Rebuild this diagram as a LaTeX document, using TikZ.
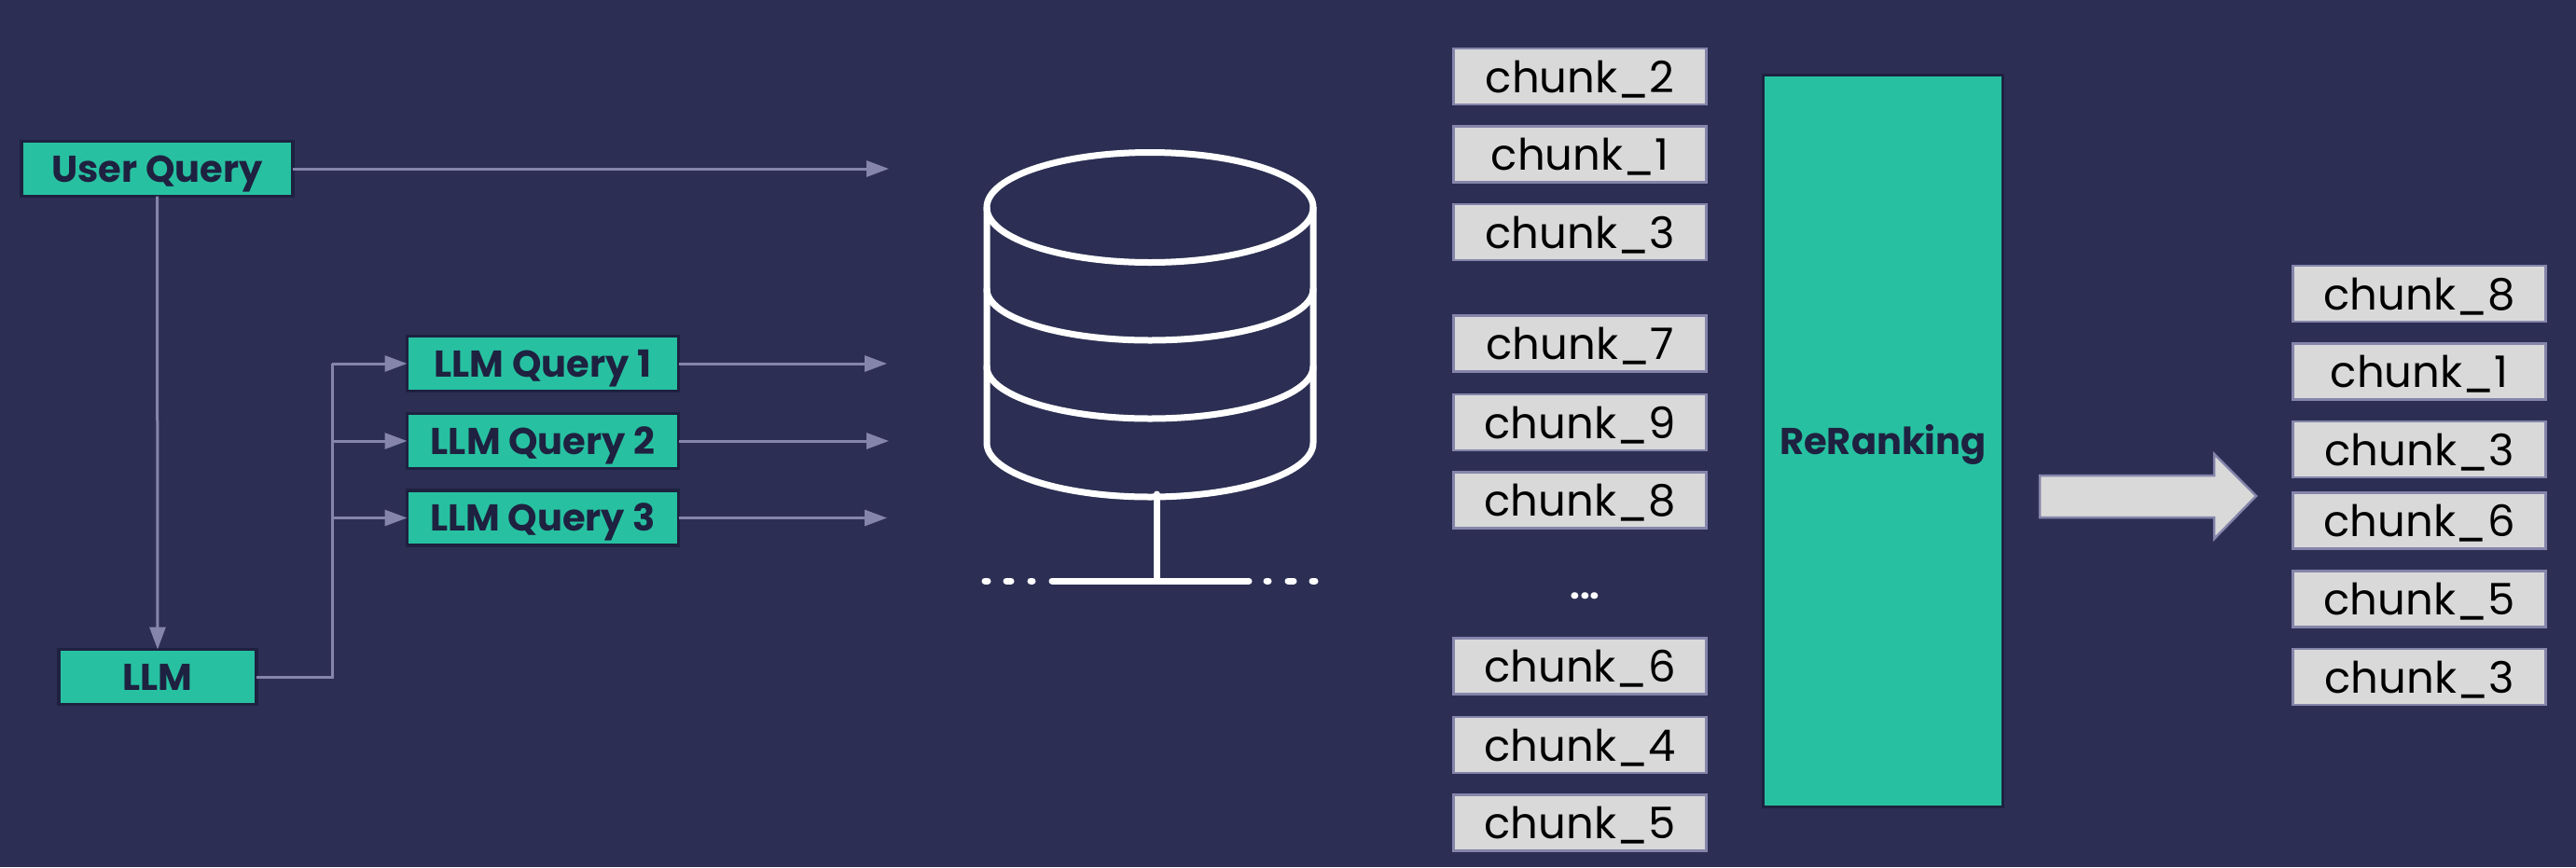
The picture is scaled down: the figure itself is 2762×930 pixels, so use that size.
\documentclass[tikz,border=0pt]{standalone}
\usepackage{fontspec}
\setmainfont{Poppins}
\usetikzlibrary{arrows.meta}
\definecolor{bgc}{HTML}{2C2F53}
\definecolor{tealc}{HTML}{27C1A1}
\definecolor{darkc}{HTML}{1E2140}
\definecolor{greyc}{HTML}{D9D9D9}
\definecolor{edgec}{HTML}{8585AB}
\tikzset{
  qbox/.style={draw=darkc,fill=tealc,line width=3.5pt,inner sep=0pt,outer sep=0pt,minimum height=59pt,text=darkc,text height=28pt,text depth=0pt,font=\fontsize{40}{42}\selectfont\bfseries},
  chunkbox/.style={draw=edgec,fill=greyc,line width=2.5pt,inner sep=0pt,outer sep=0pt,minimum width=271pt,minimum height=60pt,text=black,text height=34pt,text depth=0pt,font=\fontsize{46.5}{50}\selectfont},
  link/.style={draw=edgec,line width=3pt},
  flow/.style={link,-{Triangle[length=24pt,width=17pt]}},
  dbline/.style={draw=white,line width=7pt,line cap=round,line join=round},
}
\begin{document}
\begin{tikzpicture}[x=1pt,y=-1pt]
\useasboundingbox (0,0) rectangle (2762,930);
\fill[bgc] (0,0) rectangle (2762,930);

% query column
\node[qbox,minimum width=291pt] (user) at (168.5,181) {User Query};
\node[qbox,minimum width=212pt] (llm) at (169,726) {LLM};
\node[qbox,minimum width=291pt] (q1) at (582,390) {LLM Query 1};
\node[qbox,minimum width=291pt] (q2) at (582,473) {LLM Query 2};
\node[qbox,minimum width=291pt] (q3) at (582,555.5) {LLM Query 3};

\coordinate (t0) at (953,181);
\coordinate (t1) at (951,390);
\coordinate (t2) at (953,473);
\coordinate (t3) at (951,555.5);
\coordinate (bus) at (356,726);

\draw[flow] (user.east) -- (t0);
\draw[flow] (user.south) -- (llm.north);
\draw[flow] (q1.east) -- (t1);
\draw[flow] (q2.east) -- (t2);
\draw[flow] (q3.east) -- (t3);
\draw[link] (llm.east) -- (bus) -- (bus |- q1.west);
\draw[flow] (bus |- q1.west) -- (q1.west);
\draw[flow] (bus |- q2.west) -- (q2.west);
\draw[flow] (bus |- q3.west) -- (q3.west);

% database icon
\draw[dbline] (1233,222.5) ellipse [x radius=175pt,y radius=59pt];
\draw[dbline] (1058,222.5) -- (1058,475) arc[start angle=180,end angle=360,x radius=175pt,y radius=58pt] -- (1408,222.5);
\draw[dbline] (1058,310) arc[start angle=180,end angle=360,x radius=175pt,y radius=55pt];
\draw[dbline] (1058,393) arc[start angle=180,end angle=360,x radius=175pt,y radius=56pt];
\draw[dbline] (1240,530) -- (1240,623);
\draw[dbline] (1128,623) -- (1339,623);
\foreach \a/\b in {1056/1059,1079/1084,1105/1107,1358/1360,1381/1387,1407/1410}
  \draw[dbline] (\a,623) -- (\b,623);

% retrieved chunks
\node[chunkbox] (a1) at (1694,82) {chunk\_2};
\node[chunkbox] (a2) at (1694,165.5) {chunk\_1};
\node[chunkbox] (a3) at (1694,249) {chunk\_3};
\node[chunkbox] (a4) at (1694,368.5) {chunk\_7};
\node[chunkbox] (a5) at (1694,453) {chunk\_9};
\node[chunkbox] (a6) at (1694,536.5) {chunk\_8};
\node[text=white,font=\fontsize{38}{40}\selectfont\bfseries,inner sep=0pt,anchor=base] (dots) at (1699.5,642) {...};
\node[chunkbox] (a7) at (1694,714.5) {chunk\_6};
\node[chunkbox] (a8) at (1694,799) {chunk\_4};
\node[chunkbox] (a9) at (1694,882.5) {chunk\_5};

% reranking
\node[qbox,minimum width=257pt,minimum height=785pt] (rr) at (2019,473) {ReRanking};

% big arrow
\draw[draw=edgec,fill=greyc,line width=2.5pt,line join=miter] (2187,510) -- (2374,510) -- (2374,487) -- (2419,532) -- (2374,578) -- (2374,555) -- (2187,555) -- cycle;

% final chunks
\node[chunkbox] (b1) at (2594,315) {chunk\_8};
\node[chunkbox] (b2) at (2594,398.5) {chunk\_1};
\node[chunkbox] (b3) at (2594,482) {chunk\_3};
\node[chunkbox] (b4) at (2594,558.5) {chunk\_6};
\node[chunkbox] (b5) at (2594,642.5) {chunk\_5};
\node[chunkbox] (b6) at (2594,726) {chunk\_3};
\end{tikzpicture}
\end{document}
